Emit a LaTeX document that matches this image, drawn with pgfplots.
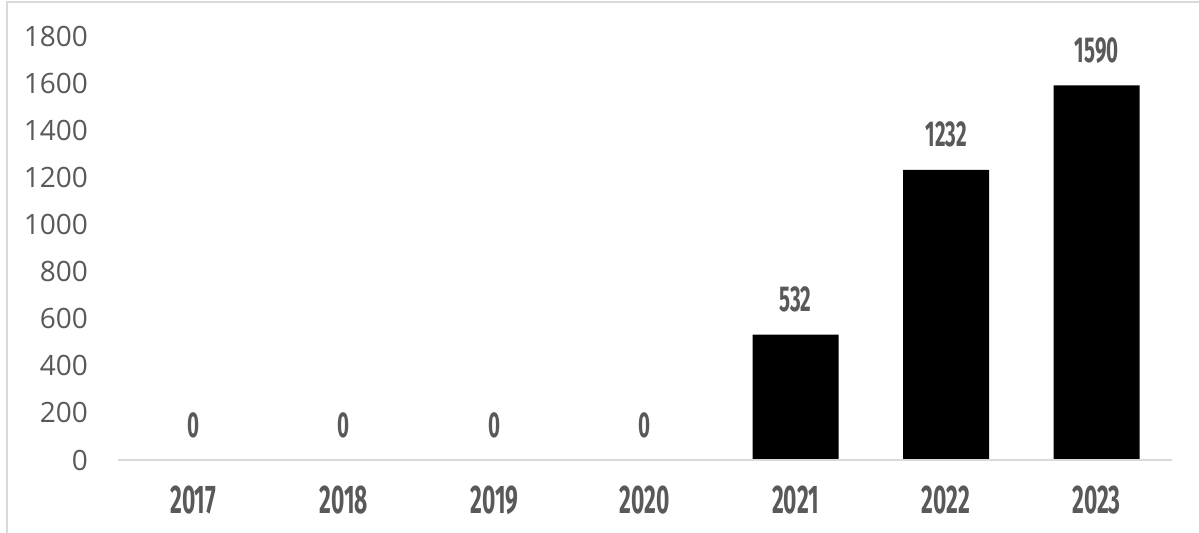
\documentclass[border=0pt]{standalone}
\usepackage{fontspec}
\setmainfont{Open Sans}
\newfontfamily\cond[FakeStretch=0.57]{Fira Sans}
\usepackage{pgfplots}
\pgfplotsset{compat=1.18}
\definecolor{txt}{HTML}{595959}
\definecolor{gridc}{HTML}{D9D9D9}
\begin{document}
\begin{tikzpicture}[x=1bp,y=1bp]
\useasboundingbox (0,0) rectangle (1199,533);
\draw[gridc, line width=2bp] (7,-5) -- (7,531) -- (1210,531);
\begin{axis}[
  at={(118bp,73bp)}, anchor=south west,
  scale only axis, width=1054bp, height=424bp,
  ybar, bar width=86bp,
  xmin=-0.5, xmax=6.5, ymin=0, ymax=1800,
  ytick={0,200,...,1800},
  xtick=data,
  xticklabels={2017,2018,2019,2020,2021,2022,2023},
  axis x line*=bottom, axis y line*=left,
  x axis line style={-, draw=gridc, line width=2bp},
  y axis line style={draw=none},
  axis on top,
  major tick length=0pt,
  /pgf/number format/assume math mode=true,
  /pgf/number format/1000 sep={},
  yticklabel style={font=\fontsize{28bp}{28bp}\selectfont, text=txt, anchor=east, inner sep=0pt, xshift=-30bp},
  xticklabel style={font=\cond\bfseries\fontsize{40bp}{40bp}\selectfont, text=txt, anchor=north, inner sep=0pt, yshift=-26bp},
  nodes near coords,
  every node near coord/.append style={font=\cond\bfseries\fontsize{36bp}{36bp}\selectfont, text=txt, anchor=south, inner sep=0pt, yshift=22bp},
  clip=false,
]
\addplot[fill=black, draw=none] coordinates {(0,0) (1,0) (2,0) (3,0) (4,532) (5,1232) (6,1590)};
\end{axis}
\end{tikzpicture}
\end{document}
